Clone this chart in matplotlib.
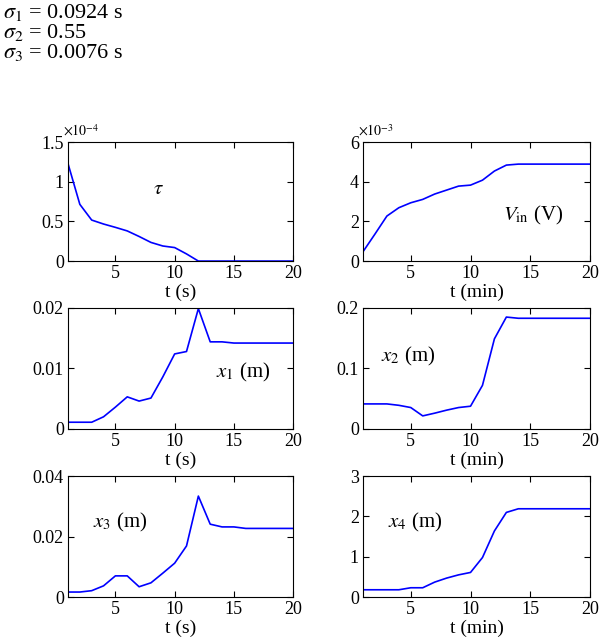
import matplotlib
matplotlib.use("Agg")
import matplotlib.pyplot as plt
from matplotlib.ticker import MultipleLocator, FuncFormatter

plt.rcParams['font.family'] = ['Liberation Serif', 'DejaVu Serif']
plt.rcParams['mathtext.fontset'] = 'stix'

# time axis
t = list(range(1, 21))

# series
s1 = [1.23e-4, 0.715e-4, 0.517e-4, 0.467e-4, 0.425e-4, 0.38e-4, 0.31e-4, 0.235e-4, 0.19e-4, 0.17e-4,
      0.09e-4, 0, 0, 0, 0, 0, 0, 0, 0, 0]
s2 = [0.47e-3, 1.36e-3, 2.27e-3, 2.69e-3, 2.94e-3, 3.11e-3, 3.38e-3, 3.58e-3, 3.78e-3, 3.83e-3,
      4.08e-3, 4.54e-3, 4.84e-3, 4.89e-3, 4.89e-3, 4.89e-3, 4.89e-3, 4.89e-3, 4.89e-3, 4.89e-3]
s3 = [0.0011, 0.0011, 0.0011, 0.0020, 0.0036, 0.0053, 0.0046, 0.0051, 0.0086, 0.0124,
      0.0128, 0.0199, 0.0144, 0.0144, 0.0142, 0.0142, 0.0142, 0.0142, 0.0142, 0.0142]
s4 = [0.0413, 0.0413, 0.0413, 0.039, 0.0353, 0.0215, 0.026, 0.031, 0.0353, 0.0375,
      0.072, 0.149, 0.185, 0.183, 0.183, 0.183, 0.183, 0.183, 0.183, 0.183]
s5 = [0.00165, 0.00165, 0.0021, 0.0037, 0.0070, 0.0070, 0.0034, 0.0047, 0.0079, 0.0112,
      0.0169, 0.0334, 0.0241, 0.0232, 0.0232, 0.0227, 0.0227, 0.0227, 0.0227, 0.0227]
s6 = [0.18, 0.18, 0.18, 0.18, 0.23, 0.23, 0.37, 0.47, 0.55, 0.61,
      0.98, 1.64, 2.10, 2.19, 2.19, 2.19, 2.19, 2.19, 2.19, 2.19]

series = [s1, s2, s3, s4, s5, s6]
ymax = [1.5e-4, 6e-3, 0.02, 0.2, 0.04, 3]
ystep = [0.5e-4, 2e-3, 0.01, 0.1, 0.02, 1]
scale = [1e-4, 1e-3, 1, 1, 1, 1]
offsets = [r'$\times10^{-4}$', r'$\times10^{-3}$', None, None, None, None]
labels = [r'$\tau$', r'$V_{\rm in}$ (V)', r'$x_{1}$ (m)', r'$x_{2}$ (m)', r'$x_{3}$ (m)', r'$x_{4}$ (m)']
label_pos = [(0.4, 0.6), (0.75, 0.38), (0.78, 0.47), (0.2, 0.6), (0.23, 0.62), (0.23, 0.62)]
xlabels = ['t (s)', 't (min)', 't (s)', 't (min)', 't (s)', 't (min)']

header = [r'$\sigma_{1}$ = 0.0924 s', r'$\sigma_{2}$ = 0.55', r'$\sigma_{3}$ = 0.0076 s']

fig = plt.figure(figsize=(6.07, 6.43), dpi=100)

lefts = [0.112, 0.598]
widths = [0.371, 0.374]
bottoms = [0.594, 0.333, 0.0715]
heights = [0.185, 0.188, 0.188]

for i in range(6):
    r, c = divmod(i, 2)
    ax = fig.add_axes([lefts[c], bottoms[r], widths[c], heights[r]])
    ax.plot(t, series[i], color='b', linewidth=1.2)
    ax.set_xlim(1, 20)
    ax.set_ylim(0, ymax[i])
    ax.xaxis.set_major_locator(MultipleLocator(5))
    ax.yaxis.set_major_locator(MultipleLocator(ystep[i]))
    sc = scale[i]
    ax.yaxis.set_major_formatter(FuncFormatter(lambda v, p, sc=sc: '%g' % round(v / sc, 6)))
    ax.tick_params(direction='in', top=True, right=True, labelsize=13, length=4, pad=3)
    for sp in ax.spines.values():
        sp.set_linewidth(0.8)
    ax.set_xlabel(xlabels[i], fontsize=14, labelpad=1)
    if offsets[i]:
        ax.text(-0.02, 1.03, offsets[i], transform=ax.transAxes, fontsize=10, ha='left', va='bottom')
    ax.text(label_pos[i][0], label_pos[i][1], labels[i], transform=ax.transAxes, fontsize=15,
            ha='center', va='center')

for k, line in enumerate(header):
    fig.text(0.005, 0.981 - k * 0.031, line, fontsize=16, ha='left', va='center')

fig.savefig('out.png', dpi=100, facecolor='white')
